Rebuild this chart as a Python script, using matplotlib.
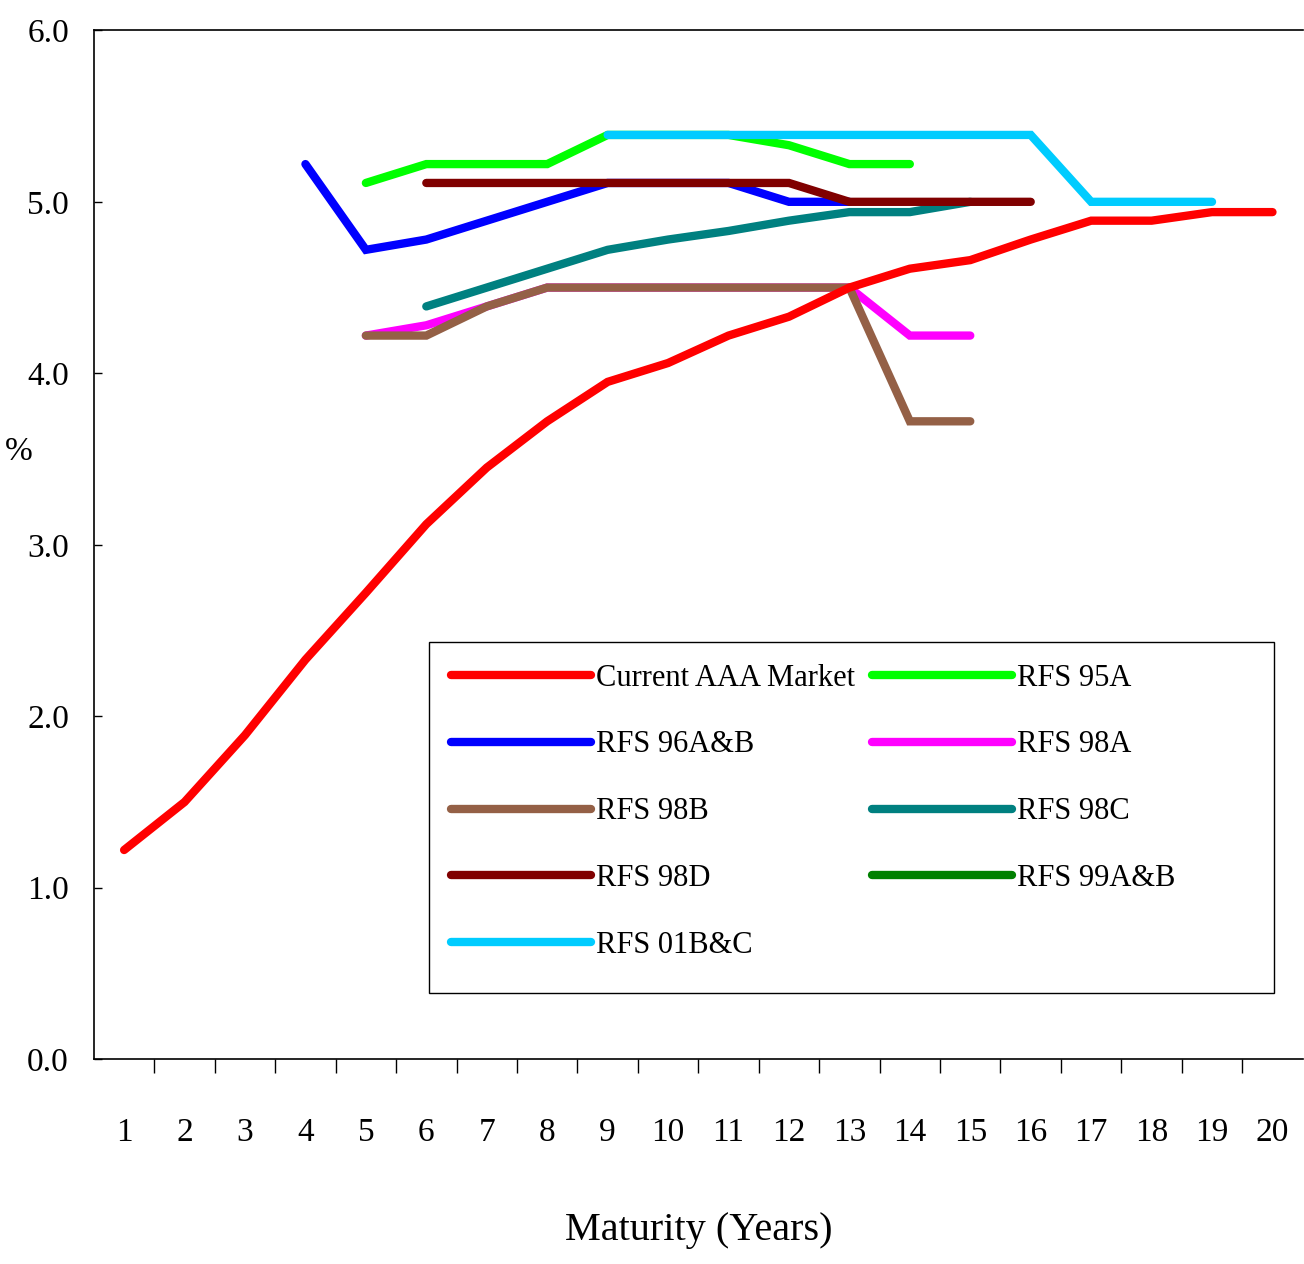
import numpy as np
import matplotlib
matplotlib.use("Agg")
import matplotlib.pyplot as plt
from matplotlib.patches import Rectangle

plt.rcParams['font.family'] = ['Liberation Serif', 'DejaVu Serif']

years = list(range(1, 21))
nan = np.nan

aaa_market = [1.22, 1.50, 1.89, 2.33, 2.72, 3.12, 3.45, 3.72, 3.95, 4.06,
              4.22, 4.33, 4.50, 4.61, 4.66, 4.78, 4.89, 4.89, 4.94, 4.94]
rfs_95a = [nan, nan, nan, nan, 5.11, 5.22, 5.22, 5.22, 5.39, 5.39,
           5.39, 5.33, 5.22, 5.22, nan, nan, nan, nan, nan, nan]
rfs_96ab = [nan, nan, nan, 5.22, 4.72, 4.78, 4.89, 5.00, 5.11, 5.11,
            5.11, 5.00, 5.00, nan, nan, nan, nan, nan, nan, nan]
rfs_98a = [nan, nan, nan, nan, 4.22, 4.28, 4.39, 4.50, 4.50, 4.50,
           4.50, 4.50, 4.50, 4.22, 4.22, nan, nan, nan, nan, nan]
rfs_98b = [nan, nan, nan, nan, 4.22, 4.22, 4.39, 4.50, 4.50, 4.50,
           4.50, 4.50, 4.50, 3.72, 3.72, nan, nan, nan, nan, nan]
rfs_98c = [nan, nan, nan, nan, nan, 4.39, 4.50, 4.61, 4.72, 4.78,
           4.83, 4.89, 4.94, 4.94, 5.00, nan, nan, nan, nan, nan]
rfs_98d = [nan, nan, nan, nan, nan, 5.11, 5.11, 5.11, 5.11, 5.11,
           5.11, 5.11, 5.00, 5.00, 5.00, 5.00, nan, nan, nan, nan]
rfs_99ab = [nan] * 20
rfs_01bc = [nan, nan, nan, nan, nan, nan, nan, nan, 5.39, 5.39,
            5.39, 5.39, 5.39, 5.39, 5.39, 5.39, 5.00, 5.00, 5.00, nan]

# drawing order (last on top)
series = [
    ("RFS 95A", rfs_95a, "#00FF00"),
    ("RFS 96A&B", rfs_96ab, "#0000FF"),
    ("RFS 98C", rfs_98c, "#008080"),
    ("RFS 98A", rfs_98a, "#FF00FF"),
    ("RFS 98B", rfs_98b, "#946046"),
    ("RFS 99A&B", rfs_99ab, "#008000"),
    ("RFS 01B&C", rfs_01bc, "#00CCFF"),
    ("RFS 98D", rfs_98d, "#800000"),
    ("Current AAA Market", aaa_market, "#FF0000"),
]

fig = plt.figure(figsize=(13.04, 12.64), dpi=100)
ax = fig.add_axes([0.072, 0.162, 0.927, 0.814])

lines = {}
for name, vals, col in series:
    ln, = ax.plot(years, vals, color=col, lw=6.0, solid_capstyle='round',
                  solid_joinstyle='miter', label=name)
    lines[name] = ln

ax.set_xlim(0.5, 20.5)
ax.set_ylim(0, 6)
yt = np.arange(0, 6.1, 1.0)
ax.set_yticks(yt)
ax.set_yticklabels(["%.1f" % v for v in yt], fontsize=24)
ax.set_xticks(years)
ax.set_xticklabels([str(y) for y in years], fontsize=24)
ax.set_xticks(np.arange(1.5, 20, 1.0), minor=True)
ax.tick_params(axis='x', which='major', length=0, pad=42)
ax.tick_params(axis='x', which='minor', length=10, direction='out', width=1)
ax.tick_params(axis='y', direction='in', length=6, width=1, pad=18)
ax.spines['right'].set_visible(False)
for s in ['left', 'bottom', 'top']:
    ax.spines[s].set_linewidth(1.2)

ax.set_xlabel("Maturity (Years)", fontsize=29, labelpad=46)
ax.set_ylabel("%", fontsize=24, rotation=0, va='center')
ax.yaxis.set_label_coords(-0.062, 0.59)

# legend box like the original, entries filled column-wise inside it
ax.add_patch(Rectangle((0.277, 0.064), 0.699, 0.342, transform=ax.transAxes,
                       fill=False, edgecolor='black', lw=1.0, zorder=5))
order = ["Current AAA Market", "RFS 96A&B", "RFS 98B", "RFS 98D", "RFS 01B&C",
         "RFS 95A", "RFS 98A", "RFS 98C", "RFS 99A&B"]
leg = ax.legend([lines[n] for n in order], order, ncol=2, loc='upper left',
                bbox_to_anchor=(0.277, 0.406), fontsize=22, frameon=False,
                handlelength=4.6, handletextpad=0.15, labelspacing=1.24,
                columnspacing=0.55, borderpad=0.72, borderaxespad=0)

fig.savefig("out.png", dpi=100)
